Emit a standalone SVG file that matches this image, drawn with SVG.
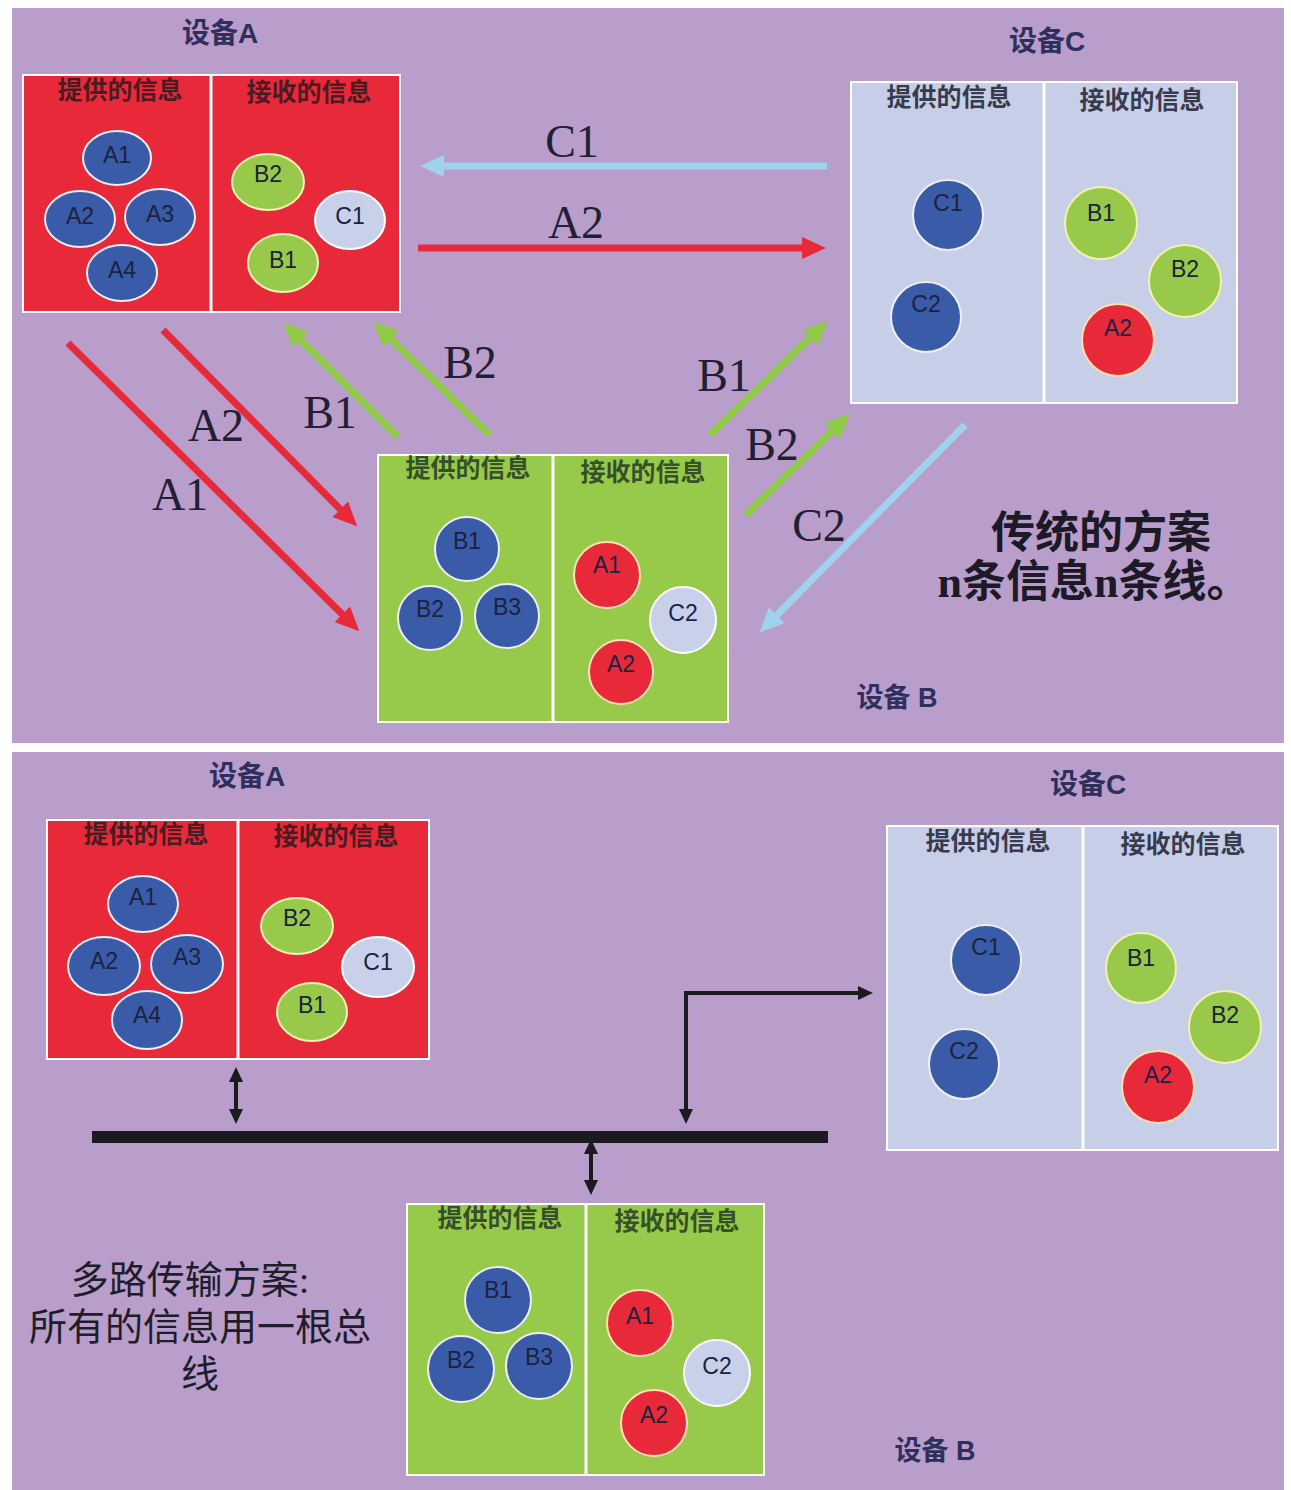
<svg xmlns="http://www.w3.org/2000/svg" width="1291" height="1490" viewBox="0 0 1291 1490">
  <style>
    .panel { fill: #B99DCA; }
    .box { stroke: #FFFFFF; stroke-width: 2; }
    .red { fill: #E8293A; }
    .green { fill: #97C94A; }
    .light { fill: #C7CEE7; }
    .divider { stroke: #FFFFFF; stroke-width: 3; }
    .title { font-family: "Liberation Sans", "Noto Sans CJK SC", sans-serif; font-weight: bold; font-size: 28px; fill: #2E2F5C; text-anchor: middle; }
    .hdr { font-family: "Noto Sans CJK SC", sans-serif; font-weight: bold; font-size: 25px; text-anchor: middle; }
    .hdr-red { fill: #4A1C22; }
    .hdr-light { fill: #383B4E; }
    .hdr-green { fill: #37502A; }
    .bub-blue { fill: #3A5BA8; stroke: #EEEEF6; stroke-width: 2; }
    .bub-green { fill: #98C94A; stroke: #F3F1B2; stroke-width: 2; }
    .bub-red { fill: #E8293A; stroke: #FBE1B2; stroke-width: 2; }
    .bub-light { fill: #C9D1EA; stroke: #FFFFFF; stroke-width: 2; }
    .btxt { font-family: "Liberation Sans", sans-serif; font-size: 23px; fill: #1A2240; text-anchor: middle; }
    .flow { fill: none; stroke-width: 7; stroke-linecap: butt; }
    .f-red { stroke: #E8293A; }
    .f-green { stroke: #8FCB45; }
    .f-blue { stroke: #9FD2EE; }
    .flabel { font-family: "Liberation Serif", serif; font-size: 46px; fill: #231E33; text-anchor: middle; }
    .note { font-family: "Liberation Serif", "Noto Sans CJK SC", serif; font-size: 44px; font-weight: bold; fill: #1C1A26; text-anchor: middle; }
    .note2 { font-family: "Liberation Serif", "Noto Sans CJK SC", serif; font-size: 38px; fill: #201D2A; text-anchor: middle; }
    .wire { fill: none; stroke: #1B1B1F; stroke-width: 4; }
  </style>
  <defs>
    <marker id="head-red" viewBox="0 0 24 22" refX="1" refY="11" markerWidth="24" markerHeight="22" markerUnits="userSpaceOnUse" orient="auto">
      <path d="M0,0 L24,11 L0,22 z" fill="#E8293A"/>
    </marker>
    <marker id="head-green" viewBox="0 0 24 22" refX="1" refY="11" markerWidth="24" markerHeight="22" markerUnits="userSpaceOnUse" orient="auto">
      <path d="M0,0 L24,11 L0,22 z" fill="#8FCB45"/>
    </marker>
    <marker id="head-blue" viewBox="0 0 24 22" refX="1" refY="11" markerWidth="24" markerHeight="22" markerUnits="userSpaceOnUse" orient="auto">
      <path d="M0,0 L24,11 L0,22 z" fill="#9FD2EE"/>
    </marker>
    <marker id="head-black" viewBox="0 0 15 14" refX="1" refY="7" markerWidth="15" markerHeight="14" markerUnits="userSpaceOnUse" orient="auto-start-reverse">
      <path d="M0,0 L15,7 L0,14 z" fill="#1B1B1F"/>
    </marker>
  </defs>

  <!-- page -->
  <rect x="0" y="0" width="1291" height="1490" fill="#FFFFFF"/>
  <rect class="panel" x="12" y="8" width="1272" height="735"/>
  <rect class="panel" x="12" y="752" width="1272" height="738"/>

  <!-- ===== upper panel: point-to-point wiring ===== -->
  <g id="top-device-a">
    <text class="title" x="220" y="43">设备A</text>
    <rect class="box red" x="23" y="75" width="377" height="237"/>
    <line class="divider" x1="211" y1="75" x2="211" y2="312"/>
    <text class="hdr hdr-red" x="120" y="99">提供的信息</text>
    <text class="hdr hdr-red" x="309" y="101">接收的信息</text>
    <ellipse class="bub-blue" cx="117" cy="158" rx="34" ry="27"/>
    <text class="btxt" x="117" y="163">A1</text>
    <ellipse class="bub-blue" cx="80" cy="219" rx="35" ry="28"/>
    <text class="btxt" x="80" y="224">A2</text>
    <ellipse class="bub-blue" cx="160" cy="217" rx="35" ry="28"/>
    <text class="btxt" x="160" y="222">A3</text>
    <ellipse class="bub-blue" cx="122" cy="273" rx="35" ry="28"/>
    <text class="btxt" x="122" y="278">A4</text>
    <ellipse class="bub-green" cx="268" cy="182" rx="36" ry="28"/>
    <text class="btxt" x="268" y="182">B2</text>
    <ellipse class="bub-light" cx="350" cy="220" rx="35" ry="29"/>
    <text class="btxt" x="350" y="224">C1</text>
    <ellipse class="bub-green" cx="283" cy="263" rx="35" ry="29"/>
    <text class="btxt" x="283" y="268">B1</text>
  </g>

  <g id="top-device-c">
    <text class="title" x="1047" y="51">设备C</text>
    <rect class="box light" x="851" y="82" width="386" height="321"/>
    <line class="divider" x1="1044" y1="82" x2="1044" y2="403"/>
    <text class="hdr hdr-light" x="949" y="106">提供的信息</text>
    <text class="hdr hdr-light" x="1142" y="109">接收的信息</text>
    <circle class="bub-blue" cx="948" cy="215" r="35" stroke="none"/>
    <text class="btxt" x="948" y="211">C1</text>
    <circle class="bub-blue" cx="926" cy="317" r="35" stroke="none"/>
    <text class="btxt" x="926" y="312">C2</text>
    <circle class="bub-green" cx="1101" cy="223" r="36"/>
    <text class="btxt" x="1101" y="221">B1</text>
    <circle class="bub-green" cx="1185" cy="281" r="36"/>
    <text class="btxt" x="1185" y="277">B2</text>
    <circle class="bub-red" cx="1118" cy="340" r="36"/>
    <text class="btxt" x="1118" y="336">A2</text>
  </g>

  <g id="top-device-b">
    <rect class="box green" x="378" y="455" width="350" height="267"/>
    <line class="divider" x1="553" y1="455" x2="553" y2="722"/>
    <text class="hdr hdr-green" x="468" y="477">提供的信息</text>
    <text class="hdr hdr-green" x="643" y="481">接收的信息</text>
    <circle class="bub-blue" cx="467" cy="549" r="32"/>
    <text class="btxt" x="467" y="549">B1</text>
    <circle class="bub-blue" cx="430" cy="618" r="32"/>
    <text class="btxt" x="430" y="617">B2</text>
    <circle class="bub-blue" cx="507" cy="616" r="32"/>
    <text class="btxt" x="507" y="615">B3</text>
    <circle class="bub-red" cx="607" cy="575" r="33"/>
    <text class="btxt" x="607" y="573">A1</text>
    <circle class="bub-light" cx="683" cy="620" r="33"/>
    <text class="btxt" x="683" y="621">C2</text>
    <circle class="bub-red" cx="621" cy="672" r="32"/>
    <text class="btxt" x="621" y="672">A2</text>
    <text class="title" x="897" y="707" style="font-size:27px">设备 B</text>
  </g>

  <g id="top-connectors">
    <line class="flow f-blue" x1="827" y1="166" x2="443" y2="166" marker-end="url(#head-blue)"/>
    <line class="flow f-red" x1="418" y1="248" x2="803" y2="248" marker-end="url(#head-red)"/>
    <line class="flow f-red" x1="68" y1="343" x2="343" y2="615" marker-end="url(#head-red)"/>
    <line class="flow f-red" x1="163" y1="330" x2="341" y2="510" marker-end="url(#head-red)"/>
    <line class="flow f-green" x1="398" y1="437" x2="300" y2="339" marker-end="url(#head-green)"/>
    <line class="flow f-green" x1="490" y1="435" x2="390" y2="338" marker-end="url(#head-green)"/>
    <line class="flow f-green" x1="710" y1="435" x2="811" y2="337" marker-end="url(#head-green)"/>
    <line class="flow f-green" x1="746" y1="515" x2="833" y2="430" marker-end="url(#head-green)"/>
    <line class="flow f-blue" x1="965" y1="425" x2="776" y2="616" marker-end="url(#head-blue)"/>
    <text class="flabel" x="572" y="157">C1</text>
    <text class="flabel" x="576" y="238">A2</text>
    <text class="flabel" x="180" y="510">A1</text>
    <text class="flabel" x="216" y="441">A2</text>
    <text class="flabel" x="330" y="428">B1</text>
    <text class="flabel" x="470" y="378">B2</text>
    <text class="flabel" x="724" y="391">B1</text>
    <text class="flabel" x="772" y="460">B2</text>
    <text class="flabel" x="819" y="541">C2</text>
  </g>

  <g id="top-caption">
    <text class="note" x="1101" y="548">传统的方案</text>
    <text class="note" x="1094" y="597">n条信息n条线。</text>
  </g>

  <!-- ===== lower panel: shared bus ===== -->
  <g id="bus-device-a">
    <text class="title" x="247" y="786">设备A</text>
    <rect class="box red" x="47" y="820" width="382" height="239"/>
    <line class="divider" x1="238" y1="820" x2="238" y2="1059"/>
    <text class="hdr hdr-red" x="146" y="843">提供的信息</text>
    <text class="hdr hdr-red" x="336" y="845">接收的信息</text>
    <ellipse class="bub-blue" cx="143" cy="904" rx="35" ry="28"/>
    <text class="btxt" x="143" y="905">A1</text>
    <ellipse class="bub-blue" cx="104" cy="966" rx="36" ry="29"/>
    <text class="btxt" x="104" y="969">A2</text>
    <ellipse class="bub-blue" cx="187" cy="964" rx="36" ry="29"/>
    <text class="btxt" x="187" y="965">A3</text>
    <ellipse class="bub-blue" cx="147" cy="1020" rx="35" ry="29"/>
    <text class="btxt" x="147" y="1023">A4</text>
    <ellipse class="bub-green" cx="297" cy="926" rx="36" ry="28"/>
    <text class="btxt" x="297" y="926">B2</text>
    <ellipse class="bub-light" cx="378" cy="967" rx="36" ry="30"/>
    <text class="btxt" x="378" y="970">C1</text>
    <ellipse class="bub-green" cx="312" cy="1012" rx="35" ry="29"/>
    <text class="btxt" x="312" y="1013">B1</text>
  </g>

  <g id="bus-device-c">
    <text class="title" x="1088" y="794">设备C</text>
    <rect class="box light" x="887" y="826" width="391" height="324"/>
    <line class="divider" x1="1083" y1="826" x2="1083" y2="1150"/>
    <text class="hdr hdr-light" x="988" y="850">提供的信息</text>
    <text class="hdr hdr-light" x="1183" y="853">接收的信息</text>
    <circle class="bub-blue" cx="986" cy="960" r="35" stroke="none"/>
    <text class="btxt" x="986" y="955">C1</text>
    <circle class="bub-blue" cx="964" cy="1064" r="35" stroke="none"/>
    <text class="btxt" x="964" y="1059">C2</text>
    <circle class="bub-green" cx="1141" cy="968" r="35"/>
    <text class="btxt" x="1141" y="966">B1</text>
    <circle class="bub-green" cx="1225" cy="1027" r="36"/>
    <text class="btxt" x="1225" y="1023">B2</text>
    <circle class="bub-red" cx="1158" cy="1087" r="36"/>
    <text class="btxt" x="1158" y="1083">A2</text>
  </g>

  <g id="bus-device-b">
    <rect class="box green" x="407" y="1204" width="357" height="271"/>
    <line class="divider" x1="586" y1="1204" x2="586" y2="1475"/>
    <text class="hdr hdr-green" x="500" y="1227">提供的信息</text>
    <text class="hdr hdr-green" x="677" y="1230">接收的信息</text>
    <circle class="bub-blue" cx="498" cy="1300" r="33"/>
    <text class="btxt" x="498" y="1298">B1</text>
    <circle class="bub-blue" cx="461" cy="1369" r="33"/>
    <text class="btxt" x="461" y="1368">B2</text>
    <circle class="bub-blue" cx="539" cy="1366" r="33"/>
    <text class="btxt" x="539" y="1365">B3</text>
    <circle class="bub-red" cx="640" cy="1323" r="33"/>
    <text class="btxt" x="640" y="1324">A1</text>
    <circle class="bub-light" cx="717" cy="1373" r="33"/>
    <text class="btxt" x="717" y="1374">C2</text>
    <circle class="bub-red" cx="654" cy="1423" r="33"/>
    <text class="btxt" x="654" y="1423">A2</text>
    <text class="title" x="935" y="1460" style="font-size:27px">设备 B</text>
  </g>

  <g id="bus-connectors">
    <rect x="92" y="1131" width="736" height="12" fill="#1B1B1F"/>
    <line class="wire" x1="236" y1="1081" x2="236" y2="1110" marker-start="url(#head-black)" marker-end="url(#head-black)"/>
    <line class="wire" x1="591" y1="1153" x2="591" y2="1181" marker-start="url(#head-black)" marker-end="url(#head-black)"/>
    <polyline class="wire" points="686,1110 686,993 859,993" marker-start="url(#head-black)" marker-end="url(#head-black)"/>
  </g>

  <g id="bus-caption">
    <text class="note2" x="190" y="1293">多路传输方案:</text>
    <text class="note2" x="200" y="1340">所有的信息用一根总</text>
    <text class="note2" x="200" y="1387">线</text>
  </g>
</svg>
